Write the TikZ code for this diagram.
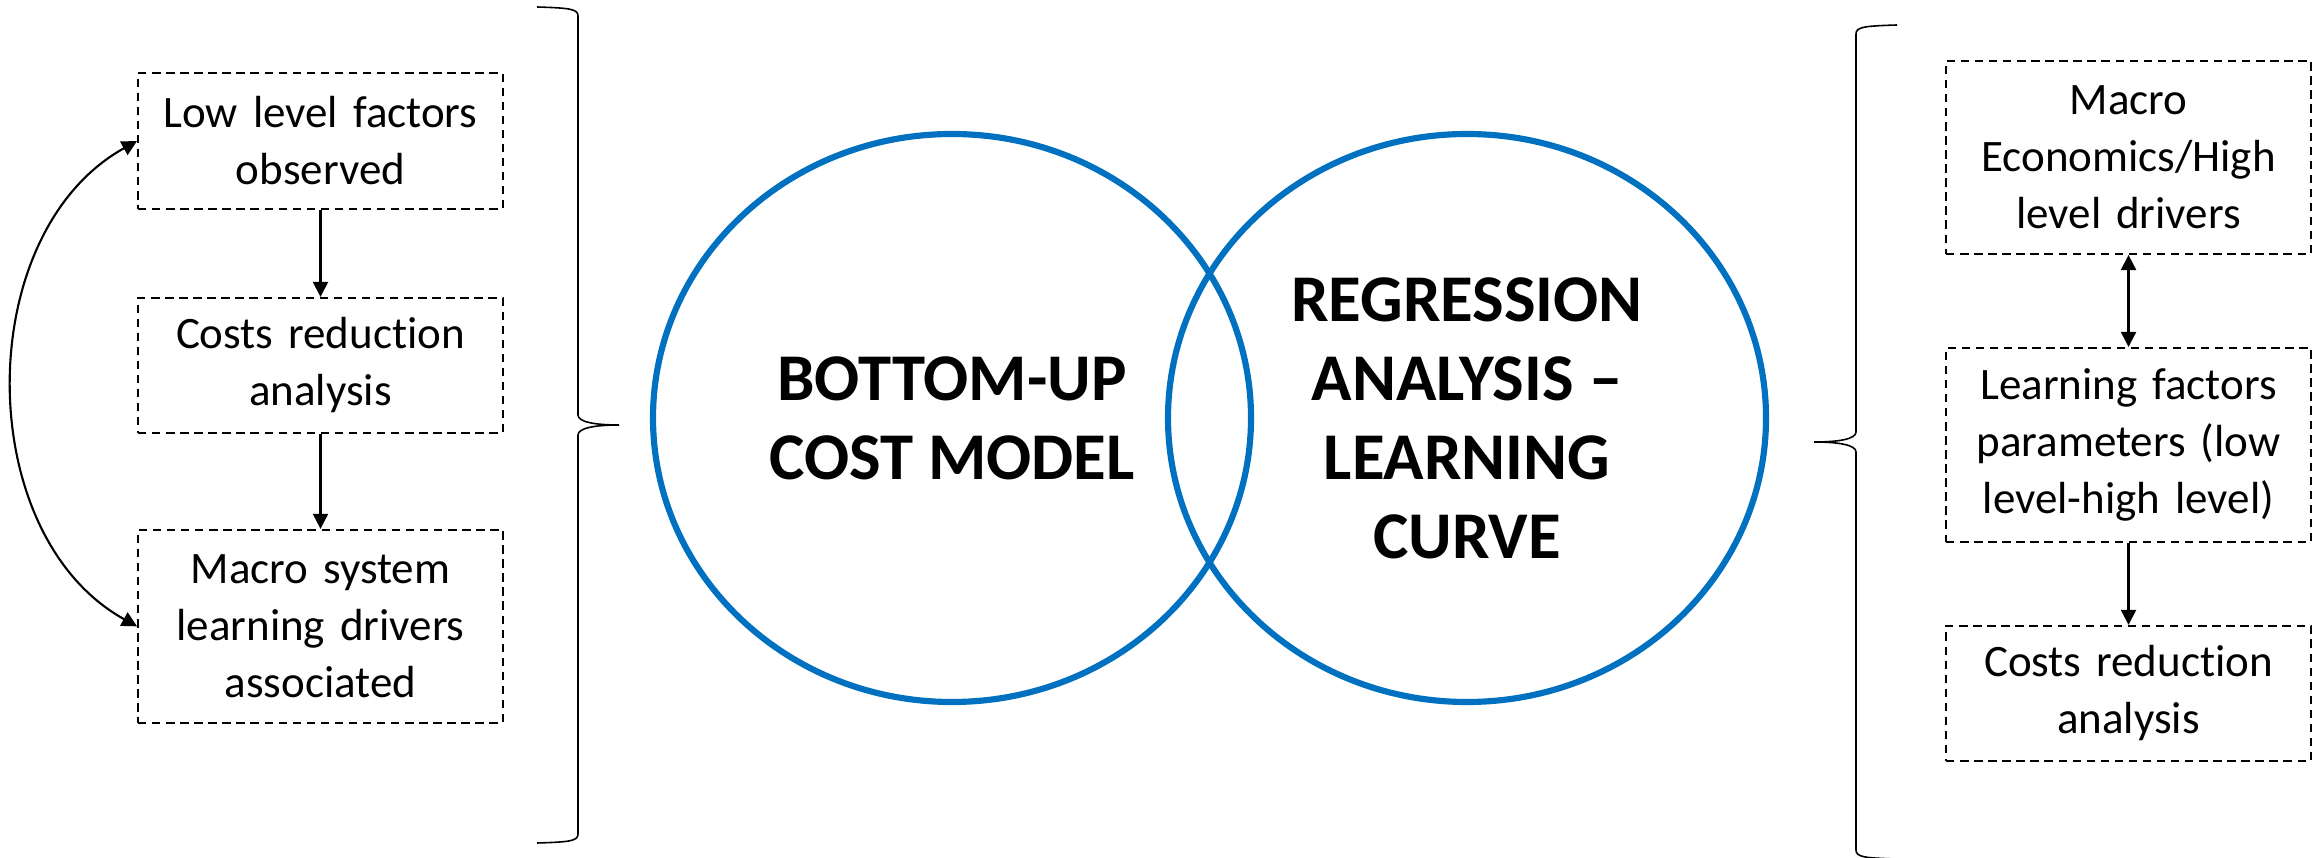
\documentclass[tikz,border=0pt]{standalone}
\usepackage{fontspec}
\setmainfont{Carlito}[Ligatures={TeX,NoCommon}]
\usetikzlibrary{arrows.meta,positioning,shapes.geometric}
\definecolor{vennblue}{HTML}{0070C0}

\begin{document}
\begin{tikzpicture}[
  factor/.style={draw,dash pattern=on 2.4pt off 1.6pt,line width=0.55pt,minimum width=36.5mm,text width=34.5mm,inner xsep=1mm,align=center,font=\fontsize{12.8pt}{16.2pt}\selectfont},
  venn/.style={ellipse,draw=vennblue,line width=1.75pt,minimum width=59.8mm,minimum height=56.8mm,align=center,font=\fontsize{19pt}{22.5pt}\selectfont\bfseries},
  flow/.style={-{Triangle[length=4.3pt,width=4.3pt]},line width=0.6pt},
  twoway/.style={{Triangle[length=4.3pt,width=4.3pt]}-{Triangle[length=4.3pt,width=4.3pt]},line width=0.6pt},
  brace/.style={line width=0.45pt}]
\useasboundingbox (0,0) rectangle (23.16,-8.58);

% bottom-up side
\node[factor,minimum height=13.6mm] (lowlevel) at (3.205,-1.41) {Low level factors\\observed};
\node[factor,minimum height=13.5mm,below=8.7mm of lowlevel] (costsL) {Costs reduction\\analysis};
\node[factor,minimum height=19.3mm,below=9.5mm of costsL] (macrosys) {Macro system\\learning drivers\\associated};
\draw[flow] (lowlevel)--(costsL);
\draw[flow] (costsL)--(macrosys);
\draw[twoway] (lowlevel.west) to[out=209,in=151,looseness=1] (macrosys.west);

% the two models
\node[venn] (bottomup) at (9.52,-4.18) {BOTTOM-UP\\COST MODEL};
\node[venn] (regression) at (14.67,-4.18) {REGRESSION\\ANALYSIS –\\LEARNING\\CURVE};

% regression side
\node[factor,minimum height=19.3mm] (macroeco) at (21.285,-1.575) {Macro\\Economics/High\\level drivers};
\node[factor,minimum height=19.4mm,below=9.2mm of macroeco] (learnfac) {Learning factors\\parameters (low\\level-high level)};
\node[factor,minimum height=13.5mm,below=8.2mm of learnfac] (costsR) {Costs reduction\\analysis};
\draw[twoway] (macroeco)--(learnfac);
\draw[flow] (learnfac)--(costsR);

% braces
\draw[brace] (5.37,-0.07) .. controls (5.70,-0.08) and (5.78,-0.09) .. (5.78,-0.16) -- (5.78,-4.15)
  .. controls (5.78,-4.22) and (5.95,-4.25) .. (6.19,-4.25) .. controls (5.95,-4.25) and (5.78,-4.28) .. (5.78,-4.35)
  -- (5.78,-8.34) .. controls (5.78,-8.41) and (5.70,-8.42) .. (5.37,-8.43);
\draw[brace] (18.97,-0.25) .. controls (18.64,-0.26) and (18.56,-0.27) .. (18.56,-0.34) -- (18.56,-4.32)
  .. controls (18.56,-4.39) and (18.39,-4.42) .. (18.14,-4.42) .. controls (18.39,-4.42) and (18.56,-4.45) .. (18.56,-4.52)
  -- (18.56,-8.50) .. controls (18.56,-8.57) and (18.64,-8.58) .. (18.97,-8.59);
\end{tikzpicture}
\end{document}
